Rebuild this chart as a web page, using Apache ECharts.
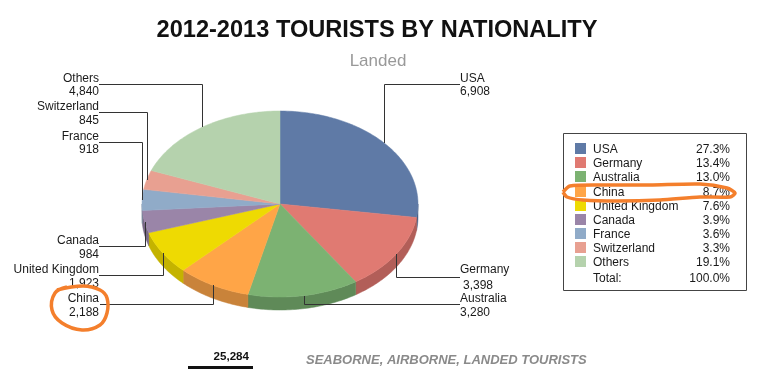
<!DOCTYPE html>
<html><head><meta charset="utf-8">
<style>html,body{margin:0;padding:0;background:#fff}#c{width:765px;height:380px}</style>
<script src="https://cdn.jsdelivr.net/npm/echarts@6/dist/echarts.min.js"></script>
</head><body><div id="c"></div>
<script>
const categories = ['USA','Germany','Australia','China','United Kingdom','Canada','France','Switzerland','Others'];
const values = [6908,3398,3280,2188,1923,984,918,845,4840];
const percents = ['27.3%','13.4%','13.0%','8.7%','7.6%','3.9%','3.6%','3.3%','19.1%'];
const valueLabels = ['6,908','3,398','3,280','2,188','1,923','984','918','845','4,840'];
const totalLabel = '25,284';
const colors = ['#5f7aa6','#e07a72','#7cb272','#ffa547','#eeda02','#9a85a8','#90abc8','#e8a091','#b5d2ad'];
const sideColors = ['#4a5f82','#b25e58','#5f8a58','#c9833a','#c4b300','#796885','#718799','#b87f72','#8fa688'];

const P = {cx:280, cy:204, rx:138, ry:93, depth:13};
// label layout, same order as categories
const elbowY = [84,277,304,304,275,246,142,112,84];
const labelSide = [1,1,1,-1,-1,-1,-1,-1,-1];
const nameY = [79,270,299,299,270,241,137,107,79];
const valY  = [92,286,313,313,284,255,150,121,92];
const valDx = [0,3,0,0,0,0,0,0,0];
const leftX = 99, rightX = 460;

const total = values.reduce((a,b)=>a+b,0);
const starts = []; let acc = 0;
values.forEach(v=>{starts.push(acc/total*360); acc+=v;});
const pt = (deg,dy=0)=>{const t=deg*Math.PI/180;return [P.cx+P.rx*Math.sin(t),P.cy-P.ry*Math.cos(t)+dy];};
const font = '"Liberation Sans", Arial, sans-serif';

function renderSide(params, api){
  const i = params.dataIndex, a0 = starts[i], a1 = a0+api.value(0)/total*360;
  const s = Math.max(a0,90), e = Math.min(a1,270);
  if (e<=s) return {type:'group',children:[]};
  const top=[],bot=[];
  for(let a=s;a<e;a+=1){top.push(pt(a));bot.push(pt(a,P.depth));}
  top.push(pt(e));bot.push(pt(e,P.depth));
  return {type:'polygon',shape:{points:top.concat(bot.reverse())},style:{fill:sideColors[i],stroke:sideColors[i],lineWidth:0.5}};
}
function renderTop(params, api){
  const i = params.dataIndex, a0 = starts[i], a1 = a0+api.value(0)/total*360;
  const pts=[[P.cx,P.cy]];
  for(let a=a0;a<a1;a+=1)pts.push(pt(a));
  pts.push(pt(a1));
  return {type:'polygon',shape:{points:pts},style:{fill:colors[i],stroke:colors[i],lineWidth:0.5}};
}
function txt(x,y,t,align,extra){
  return {type:'text',x:x,y:y,style:Object.assign({text:t,font:'12px '+font,fill:'#1a1a1a',textAlign:align,textVerticalAlign:'middle'},extra||{})};
}
function renderLeader(params, api){
  const i = params.dataIndex, mid = starts[i]+api.value(0)/total*180;
  const a = pt(mid), side = labelSide[i], endX = side>0?rightX:leftX;
  const ax = Math.round(a[0])+0.5, ey = elbowY[i]+0.5;
  const ch = [{type:'polyline',shape:{points:[[ax,Math.round(a[1])],[ax,ey],[endX,ey]]},style:{stroke:'#333',lineWidth:1,fill:null}}];
  const ta = side>0?'left':'right';
  const lx = side>0?rightX:leftX;
  if (categories[i]==='China') ch.push({type:'rect',shape:{x:40,y:285,width:60,height:35},style:{fill:'#fff'}});
  ch.push(txt(lx,nameY[i],categories[i],ta));
  ch.push(txt(lx+valDx[i],valY[i],valueLabels[i],ta));
  return {type:'group',children:ch};
}
const legendY=[149,163,177,192,206,220,234,248,262];
function renderLegend(params, api){
  const i = params.dataIndex, y = legendY[i];
  return {type:'group',children:[
    {type:'rect',shape:{x:575,y:y-6,width:11,height:11},style:{fill:colors[i]}},
    txt(593,y+1,categories[i],'left'),
    txt(730,y+1,percents[i],'right')
  ]};
}
const seriesData = values.map(v=>[v]);
const chart = echarts.init(document.getElementById('c'),null,{renderer:'canvas'});
chart.setOption({
  backgroundColor:'#fff',
  animation:false,
  title:[
    {text:'2012-2013 TOURISTS BY NATIONALITY',left:372,top:13,textAlign:'center',textStyle:{fontFamily:font,fontWeight:'bold',fontSize:23.6,color:'#111'}},
    {text:'Landed',left:373,top:48,textAlign:'center',textStyle:{fontFamily:font,fontWeight:'normal',fontSize:17,color:'#999'}}
  ],
  graphic:[
    {type:'rect',z:0,shape:{x:563.5,y:133.5,width:183,height:157},style:{fill:'#fff',stroke:'#444',lineWidth:1}},
    {type:'text',x:593,y:279,z:5,style:{text:'Total:',font:'12px '+font,fill:'#1a1a1a',textVerticalAlign:'middle'}},
    {type:'text',x:730,y:279,z:5,style:{text:'100.0%',font:'12px '+font,fill:'#1a1a1a',textAlign:'right',textVerticalAlign:'middle'}},
    {type:'text',x:249,y:357,z:5,style:{text:totalLabel,font:'bold 11.6px '+font,fill:'#111',textAlign:'right',textVerticalAlign:'middle'}},
    {type:'rect',z:5,shape:{x:188,y:366,width:65,height:3},style:{fill:'#111'}},
    {type:'text',x:306,y:360,z:5,style:{text:'SEABORNE, AIRBORNE, LANDED TOURISTS',font:'italic bold 13px '+font,fill:'#8a8a8a',textVerticalAlign:'middle'}},
    {type:'polyline',z:20,shape:{smooth:0.4,points:[[67,287],[55,293],[52,310],[62,323],[82,330],[100,325],[107,313],[107,298],[100,290],[83,286],[57,290]]},style:{stroke:'#f47f2c',lineWidth:3.5,fill:null}},
    {type:'polyline',z:20,shape:{smooth:0.25,points:[[563,192],[570,186],[600,185],[650,185],[700,184],[727,188],[735,193],[730,197],[700,197],[660,200],[617,201],[583,200],[567,197],[563,192]]},style:{stroke:'#f47f2c',lineWidth:3.5,fill:null}}
  ],
  series:[
    {type:'custom',coordinateSystem:'none',z:2,data:seriesData,renderItem:renderSide,silent:true},
    {type:'custom',coordinateSystem:'none',z:3,data:seriesData,renderItem:renderTop,silent:true},
    {type:'custom',coordinateSystem:'none',z:4,data:seriesData,renderItem:renderLeader,silent:true},
    {type:'custom',coordinateSystem:'none',z:4,data:seriesData,renderItem:renderLegend,silent:true}
  ]
});
</script></body></html>
